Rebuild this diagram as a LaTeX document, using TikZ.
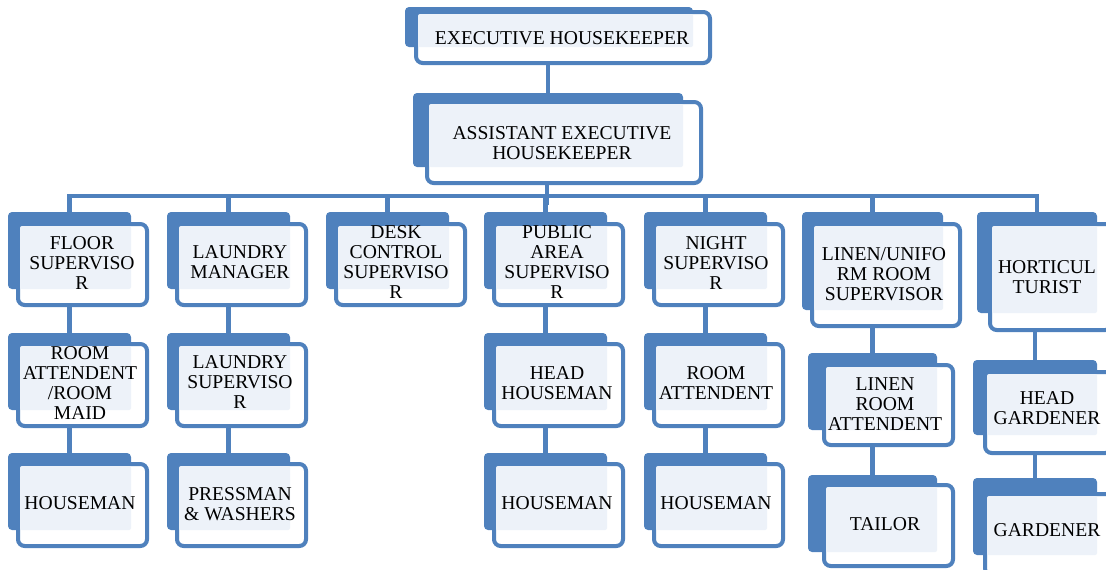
\documentclass[tikz,border=0pt]{standalone}
\usepackage{fontspec}
\setmainfont{Liberation Serif}
\newfontfamily\orgfont{Liberation Serif}
\usetikzlibrary{fit}
\definecolor{orgblue}{HTML}{4F81BD}
\definecolor{orglight}{HTML}{EDF2F9}
\tikzset{
  backbox/.style={fill=orgblue, inner sep=0pt, outer sep=0pt, rounded corners=3pt},
  frontbox/.style={fill=white, draw=orgblue, line width=3pt, inner sep=0pt, rounded corners=5pt},
  innerfill/.style={fill=orglight, rounded corners=1.5pt},
  lbl/.style={inner sep=0pt, align=center, text=black, font=\orgfont\fontsize{14.7}{15}\selectfont},
  conn/.style={draw=orgblue, line width=3.2pt}
}
% #1 name, #2/#3 corners of the shadow block, #4/#5 corners of the framed card,
% #6 text position, #7 text
\newcommand\orgbox[7]{%
  \node[backbox, fit={#2 #3}] (#1-b) {};
  \node[frontbox, fit={#4 #5}] (#1) {};
  \fill[innerfill] ([shift={(3pt,-3pt)}]#1.north west) rectangle (#1-b.south east);
  \node[lbl] (#1-t) at #6 {#7};
}
\begin{document}
\begin{tikzpicture}[x=0.75pt,y=-0.75pt]
\clip (0,0) rectangle (1106,569);
\useasboundingbox (0,0) rectangle (1106,569);

% top of the chart
\orgbox{exec}{(405,7)}{(693,47)}{(416,12)}{(710,63)}{(562,38)}{EXECUTIVE HOUSEKEEPER}
\orgbox{assist}{(413,93)}{(683,167)}{(427,102)}{(701,183)}{(562,143)}{ASSISTANT EXECUTIVE\\HOUSEKEEPER}

% first row of departments
\orgbox{floor}{(8,212)}{(131,289)}{(18,224)}{(147,305)}{(82,263)}{FLOOR\\SUPERVISO\\R}
\orgbox{lmgr}{(167,212)}{(290,289)}{(177,224)}{(306,305)}{(240,262)}{LAUNDRY\\MANAGER}
\orgbox{desk}{(326,212)}{(449,289)}{(336,224)}{(465,305)}{(396,262)}{DESK\\CONTROL\\SUPERVISO\\R}
\orgbox{pub}{(484,212)}{(607,289)}{(494,224)}{(623,305)}{(557,262)}{PUBLIC\\AREA\\SUPERVISO\\R}
\orgbox{night}{(644,212)}{(767,289)}{(654,224)}{(783,305)}{(716,263)}{NIGHT\\SUPERVISO\\R}
\orgbox{linen}{(802,212)}{(943,310)}{(812,224)}{(960,326)}{(884,274)}{LINEN/UNIFO\\RM ROOM\\SUPERVISOR}
\orgbox{hort}{(977,212)}{(1097,313)}{(990,224)}{(1112,330)}{(1047,277)}{HORTICUL\\TURIST}

% second row
\orgbox{ram}{(8,333)}{(131,410)}{(18,344)}{(147,426)}{(80,383)}{ROOM\\ATTENDENT\\/ROOM\\MAID}
\orgbox{lsup}{(167,333)}{(290,410)}{(177,344)}{(306,426)}{(240,382)}{LAUNDRY\\SUPERVISO\\R}
\orgbox{hhm}{(484,333)}{(607,410)}{(494,344)}{(623,426)}{(557,383)}{HEAD\\HOUSEMAN}
\orgbox{ratt}{(644,333)}{(767,410)}{(654,344)}{(783,426)}{(716,383)}{ROOM\\ATTENDENT}
\orgbox{lra}{(808,353)}{(937,430)}{(824,365)}{(953,445)}{(885,404)}{LINEN\\ROOM\\ATTENDENT}
\orgbox{hg}{(973,360)}{(1097,435)}{(985,372)}{(1112,453)}{(1047,408)}{HEAD\\GARDENER}

% third row
\orgbox{hmA}{(8,453)}{(131,530)}{(18,464)}{(147,546)}{(80,503)}{HOUSEMAN}
\orgbox{pw}{(167,453)}{(290,530)}{(177,464)}{(306,546)}{(240,504)}{PRESSMAN\\\& WASHERS}
\orgbox{hmB}{(484,453)}{(607,530)}{(494,464)}{(623,546)}{(557,503)}{HOUSEMAN}
\orgbox{hmC}{(644,453)}{(767,530)}{(654,464)}{(783,546)}{(716,503)}{HOUSEMAN}
\orgbox{tailor}{(808,475)}{(937,552)}{(824,485)}{(953,566)}{(885,524)}{TAILOR}
\orgbox{gard}{(973,478)}{(1097,555)}{(985,494)}{(1112,575)}{(1047,530)}{GARDENER}

% connectors
\coordinate (bus) at (0,196);
\coordinate (busdrop) at (547,205);
\draw[conn] (exec.south -| assist-b.north) -- (assist-b.north);
\draw[conn] (assist.south -| busdrop) -- (busdrop);
\draw[conn] (floor-b.north) -- (floor-b.north |- bus) -- (hort-b.north |- bus) -- (hort-b.north);
\foreach \n in {lmgr,desk,pub,night,linen}
  \draw[conn] (\n-b.north |- bus) -- (\n-b.north);

\draw[conn] (floor.south -| ram-b.north) -- (ram-b.north);
\draw[conn] (ram.south -| hmA-b.north) -- (hmA-b.north);
\draw[conn] (lmgr.south -| lsup-b.north) -- (lsup-b.north);
\draw[conn] (lsup.south -| pw-b.north) -- (pw-b.north);
\draw[conn] (pub.south -| hhm-b.north) -- (hhm-b.north);
\draw[conn] (hhm.south -| hmB-b.north) -- (hmB-b.north);
\draw[conn] (night.south -| ratt-b.north) -- (ratt-b.north);
\draw[conn] (ratt.south -| hmC-b.north) -- (hmC-b.north);
\draw[conn] (linen.south -| lra-b.north) -- (lra-b.north);
\draw[conn] (lra.south -| tailor-b.north) -- (tailor-b.north);
\draw[conn] (hort.south -| hg-b.north) -- (hg-b.north);
\draw[conn] (hg.south -| gard-b.north) -- (gard-b.north);
\end{tikzpicture}
\end{document}
